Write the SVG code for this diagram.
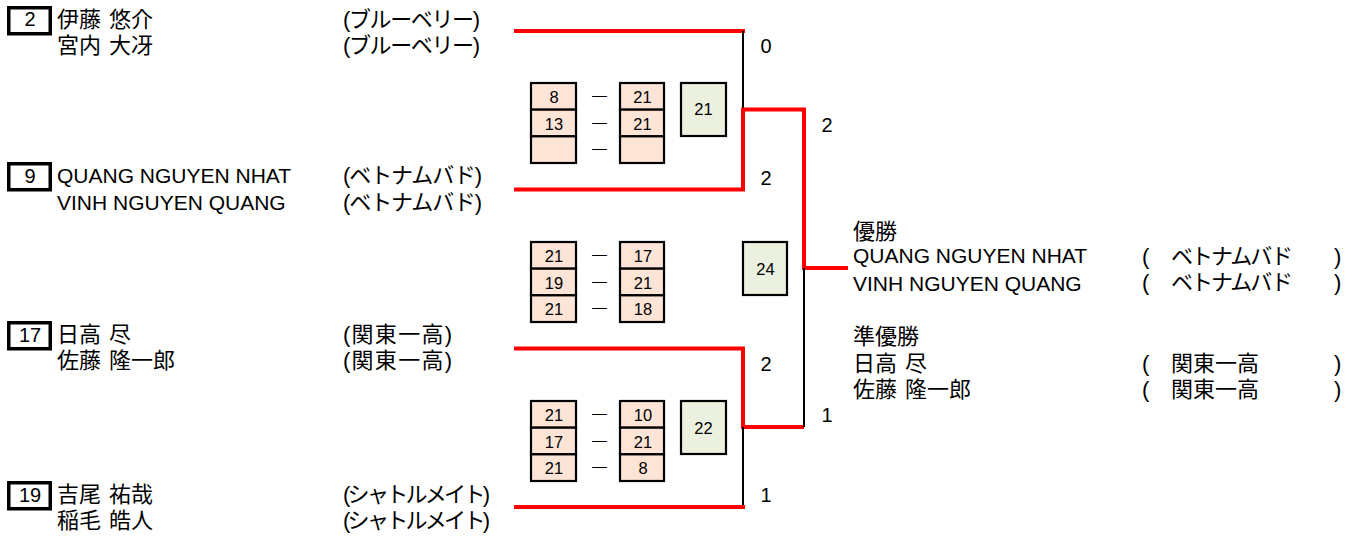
<svg xmlns="http://www.w3.org/2000/svg" width="1359" height="537" viewBox="0 0 1359 537">
<style>
text{font-family:"Liberation Sans","Noto Sans CJK JP",sans-serif;fill:#000}
.cj{font-size:22px;word-spacing:2px}
.lt{font-size:21px}
.seed{fill:none;stroke:#000;stroke-width:3.5}
.sn{font-size:20px;text-anchor:middle}
.sc{fill:#FCE4D6;stroke:#000;stroke-width:2.2}
.tot{fill:#EBF1DE;stroke:#000;stroke-width:2.2}
.num{font-size:16.5px;text-anchor:middle}
.dash{font-size:15px;text-anchor:middle}
.gs{font-size:20px;text-anchor:middle}
.red{fill:none;stroke:#FF0000;stroke-width:4}
.blk{fill:none;stroke:#000;stroke-width:2}
</style>

<g id="connectors">
<path class="red" d="M514,31 H745"/>
<path class="blk" d="M743,31 V110"/>
<path class="red" d="M514,189.5 H743 V109.5 H804 V268 H848"/>
<path class="red" d="M514,348.5 H743 V427 H804"/>
<path class="blk" d="M804,268 V427"/>
<path class="blk" d="M743,427 V507"/>
<path class="red" d="M514,507 H745"/>
</g>

<g id="entry-2">
<rect class="seed" x="8.75" y="7.75" width="41.5" height="26"/>
<text class="sn" x="30" y="26">2</text>
<text class="cj" x="57" y="27">伊藤 悠介</text>
<text class="cj" x="57" y="53">宮内 大冴</text>
<text class="cj" x="343" y="27" textLength="137" lengthAdjust="spacing">(ブルーベリー)</text>
<text class="cj" x="343" y="53" textLength="137" lengthAdjust="spacing">(ブルーベリー)</text>
</g>

<g id="entry-9">
<rect class="seed" x="8.75" y="163.75" width="41.5" height="26"/>
<text class="sn" x="30" y="183">9</text>
<text class="lt" x="57" y="183">QUANG NGUYEN NHAT</text>
<text class="lt" x="57" y="210">VINH NGUYEN QUANG</text>
<text class="cj" x="343" y="183" textLength="139" lengthAdjust="spacing">(ベトナムバド)</text>
<text class="cj" x="343" y="210" textLength="139" lengthAdjust="spacing">(ベトナムバド)</text>
</g>

<g id="entry-17">
<rect class="seed" x="8.75" y="322.75" width="41.5" height="26"/>
<text class="sn" x="30" y="342">17</text>
<text class="cj" x="57" y="342">日高 尽</text>
<text class="cj" x="57" y="368">佐藤 隆一郎</text>
<text class="cj" x="343" y="342" textLength="109" lengthAdjust="spacing">(関東一高)</text>
<text class="cj" x="343" y="368" textLength="109" lengthAdjust="spacing">(関東一高)</text>
</g>

<g id="entry-19">
<rect class="seed" x="8.75" y="482.75" width="41.5" height="26"/>
<text class="sn" x="30" y="502">19</text>
<text class="cj" x="57" y="502">吉尾 祐哉</text>
<text class="cj" x="57" y="528">稲毛 皓人</text>
<text class="cj" x="343" y="502" textLength="147" lengthAdjust="spacing">(シャトルメイト)</text>
<text class="cj" x="343" y="528" textLength="147" lengthAdjust="spacing">(シャトルメイト)</text>
</g>

<g id="match-1">
<rect class="sc" x="531" y="83" width="45" height="26.67"/>
<rect class="sc" x="531" y="109.67" width="45" height="26.67"/>
<rect class="sc" x="531" y="136.33" width="45" height="26.67"/>
<rect class="sc" x="620" y="83" width="44" height="26.67"/>
<rect class="sc" x="620" y="109.67" width="44" height="26.67"/>
<rect class="sc" x="620" y="136.33" width="44" height="26.67"/>
<text class="num" x="554" y="103">8</text>
<text class="num" x="554" y="129.7">13</text>
<text class="num" x="642.5" y="103">21</text>
<text class="num" x="642.5" y="129.7">21</text>
<text class="dash" x="599.5" y="100">—</text>
<text class="dash" x="599.5" y="126.7">—</text>
<text class="dash" x="599.5" y="153.3">—</text>
<rect class="tot" x="681" y="83" width="45" height="53"/>
<text class="num" x="703.5" y="115">21</text>
<text class="gs" x="766" y="53">0</text>
<text class="gs" x="766" y="185">2</text>
</g>

<g id="match-2">
<rect class="sc" x="531" y="242" width="45" height="26.67"/>
<rect class="sc" x="531" y="268.67" width="45" height="26.67"/>
<rect class="sc" x="531" y="295.33" width="45" height="26.67"/>
<rect class="sc" x="620" y="242" width="44" height="26.67"/>
<rect class="sc" x="620" y="268.67" width="44" height="26.67"/>
<rect class="sc" x="620" y="295.33" width="44" height="26.67"/>
<text class="num" x="554" y="262">21</text>
<text class="num" x="554" y="288.7">19</text>
<text class="num" x="554" y="315.3">21</text>
<text class="num" x="643" y="262">17</text>
<text class="num" x="643" y="288.7">21</text>
<text class="num" x="643" y="315.3">18</text>
<text class="dash" x="599.5" y="259">—</text>
<text class="dash" x="599.5" y="285.7">—</text>
<text class="dash" x="599.5" y="312.3">—</text>
<rect class="tot" x="743" y="242" width="44" height="53"/>
<text class="num" x="765.5" y="275">24</text>
<text class="gs" x="827" y="132">2</text>
<text class="gs" x="827" y="422">1</text>
</g>

<g id="match-3">
<rect class="sc" x="531" y="401" width="45" height="26.67"/>
<rect class="sc" x="531" y="427.67" width="45" height="26.67"/>
<rect class="sc" x="531" y="454.33" width="45" height="26.67"/>
<rect class="sc" x="620" y="401" width="44" height="26.67"/>
<rect class="sc" x="620" y="427.67" width="44" height="26.67"/>
<rect class="sc" x="620" y="454.33" width="44" height="26.67"/>
<text class="num" x="554" y="421">21</text>
<text class="num" x="554" y="447.7">17</text>
<text class="num" x="554" y="474.3">21</text>
<text class="num" x="643" y="421">10</text>
<text class="num" x="643" y="447.7">21</text>
<text class="num" x="643" y="474.3">8</text>
<text class="dash" x="599.5" y="418">—</text>
<text class="dash" x="599.5" y="444.7">—</text>
<text class="dash" x="599.5" y="471.3">—</text>
<rect class="tot" x="681" y="401" width="45" height="53"/>
<text class="num" x="703.5" y="434">22</text>
<text class="gs" x="766" y="371">2</text>
<text class="gs" x="766" y="502">1</text>
</g>

<g id="winner">
<text class="cj" x="853" y="239">優勝</text>
<text class="lt" x="853" y="263">QUANG NGUYEN NHAT</text>
<text class="lt" x="853" y="291">VINH NGUYEN QUANG</text>
<text class="cj" x="1142" y="264">(</text>
<text class="cj" x="1171" y="264" textLength="122" lengthAdjust="spacing">ベトナムバド</text>
<text class="cj" x="1334" y="264">)</text>
<text class="cj" x="1142" y="290">(</text>
<text class="cj" x="1171" y="290" textLength="122" lengthAdjust="spacing">ベトナムバド</text>
<text class="cj" x="1334" y="290">)</text>
</g>

<g id="runner-up">
<text class="cj" x="853" y="344">準優勝</text>
<text class="cj" x="853" y="371">日高 尽</text>
<text class="cj" x="853" y="397">佐藤 隆一郎</text>
<text class="cj" x="1142" y="371">(</text>
<text class="cj" x="1171" y="371">関東一高</text>
<text class="cj" x="1334" y="371">)</text>
<text class="cj" x="1142" y="397">(</text>
<text class="cj" x="1171" y="397">関東一高</text>
<text class="cj" x="1334" y="397">)</text>
</g>
</svg>
